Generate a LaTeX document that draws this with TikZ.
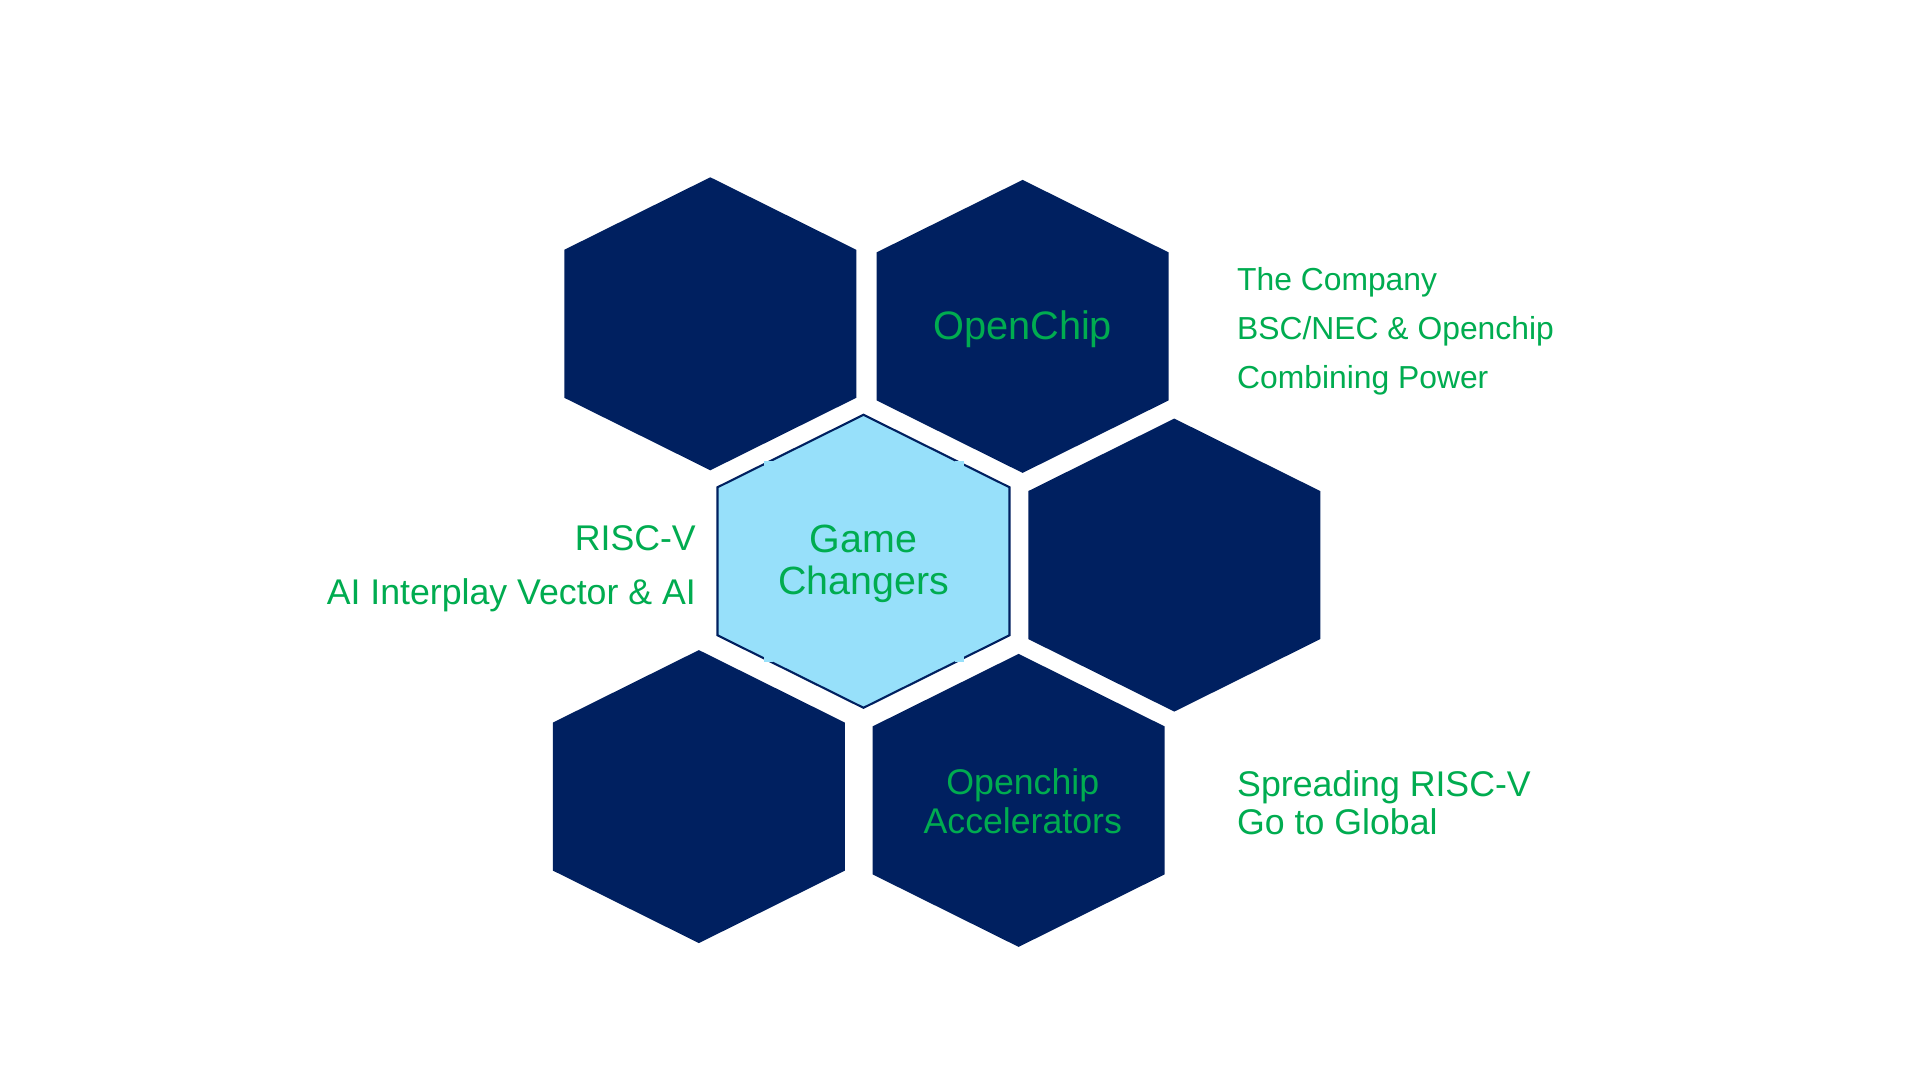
\documentclass[tikz,border=0pt]{standalone}
\usepackage{fontspec}
\setmainfont{Liberation Sans}
\definecolor{navy}{RGB}{0,32,96}
\definecolor{skyfill}{RGB}{151,224,250}
\definecolor{txtgreen}{RGB}{0,172,80}
\tikzset{
  hexagon/.pic={\path[pic actions] (0,-146.5) -- ++(146,72.5) -- ++(0,148) -- ++(-146,72.5) -- ++(-146,-72.5) -- ++(0,-148) -- cycle;},
  darkhex/.style={fill=navy},
  lighthex/.style={fill=skyfill, draw=navy, line width=0.6pt},
  gtext/.style={text=txtgreen, inner sep=0pt},
  hexlabel/.style={gtext, anchor=base},
  leftlabel/.style={gtext, anchor=base east},
  rightlabel/.style={gtext, anchor=base west},
  fbig/.style={font=\fontsize{11.3pt}{13pt}\selectfont},
  fgame/.style={font=\fontsize{11.2pt}{13pt}\selectfont},
  fmid/.style={font=\fontsize{10.15pt}{12pt}\selectfont},
  fsmall/.style={font=\fontsize{9.05pt}{11pt}\selectfont},
  patch/.style={fill=skyfill}
}
\begin{document}
\begin{tikzpicture}[x=0.01cm,y=-0.01cm]
  \useasboundingbox[fill=white] (0,0) rectangle (1920,1080);
  % hexagons
  \pic[darkhex] (hTL) at (710.3,323.8) {hexagon};
  \pic[darkhex] (hTR) at (1022.6,326.4) {hexagon};
  \pic[darkhex] (hR)  at (1174.3,565.1) {hexagon};
  \pic[darkhex] (hBL) at (698.9,796.6) {hexagon};
  \pic[darkhex] (hBR) at (1018.6,800.4) {hexagon};
  \pic[lighthex] (hGC) at (863.5,561.3) {hexagon};
  % small breaks in the centre hexagon's outline
  \fill[patch] (768,463.5) ++(-4.5,-2.6) rectangle ++(9,5.2);
  \fill[patch] (959.5,463.5) ++(-4.5,-2.6) rectangle ++(9,5.2);
  \fill[patch] (768,659) ++(-4.5,-2.6) rectangle ++(9,5.2);
  \fill[patch] (959.5,659) ++(-4.5,-2.6) rectangle ++(9,5.2);
  % hexagon texts
  \node[hexlabel, fbig] (openchip) at (1022.6,339.5) {OpenChip};
  \node[hexlabel, fgame] (game) at (863.5,552.7) {Game};
  \node[hexlabel, fgame] (changers) at (863.5,595) {Changers};
  \node[hexlabel, fmid] (accel1) at (1022.8,795) {Openchip};
  \node[hexlabel, fmid] (accel2) at (1022.8,833.5) {Accelerators};
  % left texts
  \node[leftlabel, fmid] (riscv) at (696.5,550.5) {RISC-V};
  \node[leftlabel, fmid] (aiinter) at (696.5,605) {AI Interplay Vector \& AI};
  % right texts
  \node[rightlabel, fsmall] (company) at (1236.5,290.5) {The Company};
  \node[rightlabel, fsmall] (bscnec) at (1236.5,340) {BSC/NEC \& Openchip};
  \node[rightlabel, fsmall] (combining) at (1236.5,388.5) {Combining Power};
  \node[rightlabel, fmid] (spreading) at (1236.5,796.5) {Spreading RISC-V};
  \node[rightlabel, fmid] (global) at (1236.5,835) {Go to Global};
\end{tikzpicture}
\end{document}
